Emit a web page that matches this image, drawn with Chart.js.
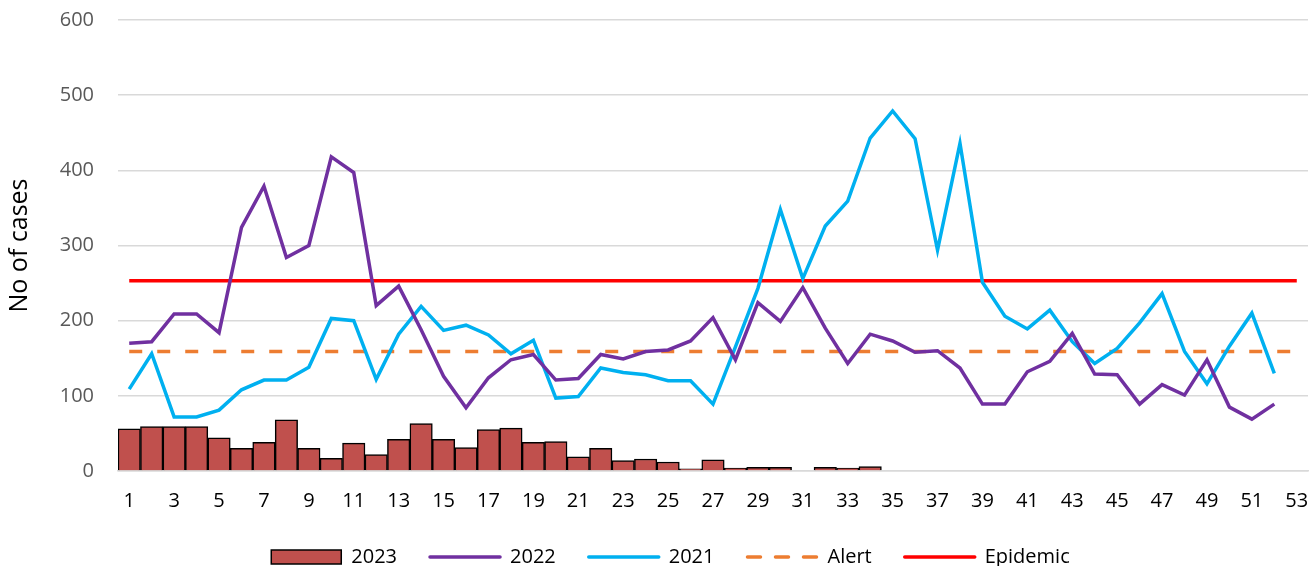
<!DOCTYPE html>
<html>
<head>
<meta charset="utf-8">
<title>Weekly cases</title>
<script src="https://cdn.jsdelivr.net/npm/chart.js@4"></script>
<style>
  html, body { margin: 0; padding: 0; background: #fff; }
  #wrap { width: 1312px; height: 566px; }
</style>
</head>
<body>
<div id="wrap"><canvas id="casesChart" width="1312" height="566"></canvas></div>
<script>
// epi weeks 1..53
const weeks = ["1","2","3","4","5","6","7","8","9","10","11","12","13","14","15","16","17","18","19","20",
  "21","22","23","24","25","26","27","28","29","30","31","32","33","34","35","36","37","38","39","40",
  "41","42","43","44","45","46","47","48","49","50","51","52","53"];

const cases2023 = [56, 59, 59, 59, 44, 30, 38, 68, 30, 17, 37, 22, 42, 63, 42, 31, 55, 57, 38, 39,
  19, 30, 14, 16, 12, 3, 15, 4, 5, 5, null, 5, 4, 6];

const cases2022 = [170, 172, 209, 209, 184, 324, 379, 284, 300, 418, 397, 220, 246, 188, 126, 84, 124, 148, 155, 121,
  123, 155, 149, 159, 161, 173, 204, 148, 224, 199, 244, 190, 143, 182, 173, 158, 160, 137, 89, 89,
  132, 146, 183, 129, 128, 89, 115, 101, 148, 85, 69, 89];

const cases2021 = [109, 156, 72, 72, 81, 108, 121, 121, 138, 203, 200, 122, 182, 219, 187, 194, 181, 156, 174, 97,
  99, 137, 131, 128, 120, 120, 89, 165, 243, 348, 256, 326, 359, 443, 479, 442, 294, 436, 251, 206,
  189, 214, 172, 143, 163, 197, 236, 159, 116, 166, 210, 130];

const alertLevel = 159;
const epidemicLevel = 253;

const yTicks = [0, 100, 200, 300, 400, 500, 600];

const font = "'Open Sans', sans-serif";
const grey = "#595959";

const ctx = document.getElementById("casesChart").getContext("2d");
const casesChart = new Chart(ctx, {
  type: "bar",
  data: {
    labels: weeks,
    datasets: [
      {
        type: "bar",
        label: "2023",
        data: cases2023,
        backgroundColor: "#C0504D",
        borderColor: "#000000",
        borderWidth: 1.5,
        barPercentage: 1,
        categoryPercentage: 1,
        pointStyle: "rect"
      },
      {
        type: "line",
        label: "2022",
        data: cases2022,
        borderColor: "#7030A0",
        backgroundColor: "#7030A0",
        borderWidth: 3.5,
        tension: 0,
        pointRadius: 0,
        pointStyle: "line"
      },
      {
        type: "line",
        label: "2021",
        data: cases2021,
        borderColor: "#00B0F0",
        backgroundColor: "#00B0F0",
        borderWidth: 3.5,
        tension: 0,
        pointRadius: 0,
        pointStyle: "line"
      },
      {
        type: "line",
        label: "Alert",
        data: weeks.map(() => alertLevel),
        borderColor: "#ED7D31",
        backgroundColor: "#ED7D31",
        borderWidth: 3.5,
        borderDash: [13, 15],
        tension: 0,
        pointRadius: 0,
        pointStyle: "line"
      },
      {
        type: "line",
        label: "Epidemic",
        data: weeks.map(() => epidemicLevel),
        borderColor: "#FF0000",
        backgroundColor: "#FF0000",
        borderWidth: 3.5,
        tension: 0,
        pointRadius: 0,
        pointStyle: "line"
      }
    ]
  },
  options: {
    responsive: false,
    animation: false,
    layout: { padding: { top: 4, right: 4, left: 33, bottom: -11 } },
    plugins: {
      tooltip: { enabled: false },
      legend: {
        position: "bottom",
        labels: {
          usePointStyle: true,
          pointStyleWidth: 70,
          boxHeight: 14,
          padding: 33,
          color: "#000000",
          font: { family: font, size: 20 },
          // default labels lose the dash and line width with point styles
          generateLabels: (chart) => {
            const items = Chart.defaults.plugins.legend.labels.generateLabels(chart);
            items.forEach(item => {
              const ds = chart.data.datasets[item.datasetIndex];
              item.lineWidth = ds.borderWidth;
              item.strokeStyle = ds.borderColor;
              item.lineDash = ds.borderDash || [];
              item.lineCap = ds.type === "line" ? "round" : "butt";
            });
            return items;
          }
        }
      }
    },
    scales: {
      x: {
        grid: { display: false, drawTicks: false },
        border: { color: "#d9d9d9", width: 1.5 },
        ticks: {
          autoSkip: false,
          maxRotation: 0,
          padding: 18,
          color: "#000000",
          font: { family: font, size: 20 },
          callback: (val, i) => (i % 2 === 0 ? weeks[i] : "")
        },
        afterFit: (scale) => {
          scale.height = 43;
          scale.paddingRight = 0;
        }
      },
      y: {
        min: 0,
        max: 600,
        afterBuildTicks: (scale) => { scale.ticks = yTicks.map(v => ({ value: v })); },
        grid: { color: "#d9d9d9", lineWidth: 1.5, drawTicks: false },
        border: { display: false },
        ticks: {
          padding: 24,
          color: grey,
          font: { family: font, size: 20 }
        },
        title: {
          display: true,
          text: "No of cases",
          color: "#000000",
          font: { family: font, size: 25 },
          padding: { top: -28, bottom: 0 }
        },
        afterFit: (scale) => {
          scale.width = 85;
          // tick padding otherwise pushes the plot top down
          scale.paddingTop = 20;
          scale.paddingBottom = 0;
        }
      }
    }
  }
});
</script>
</body>
</html>
